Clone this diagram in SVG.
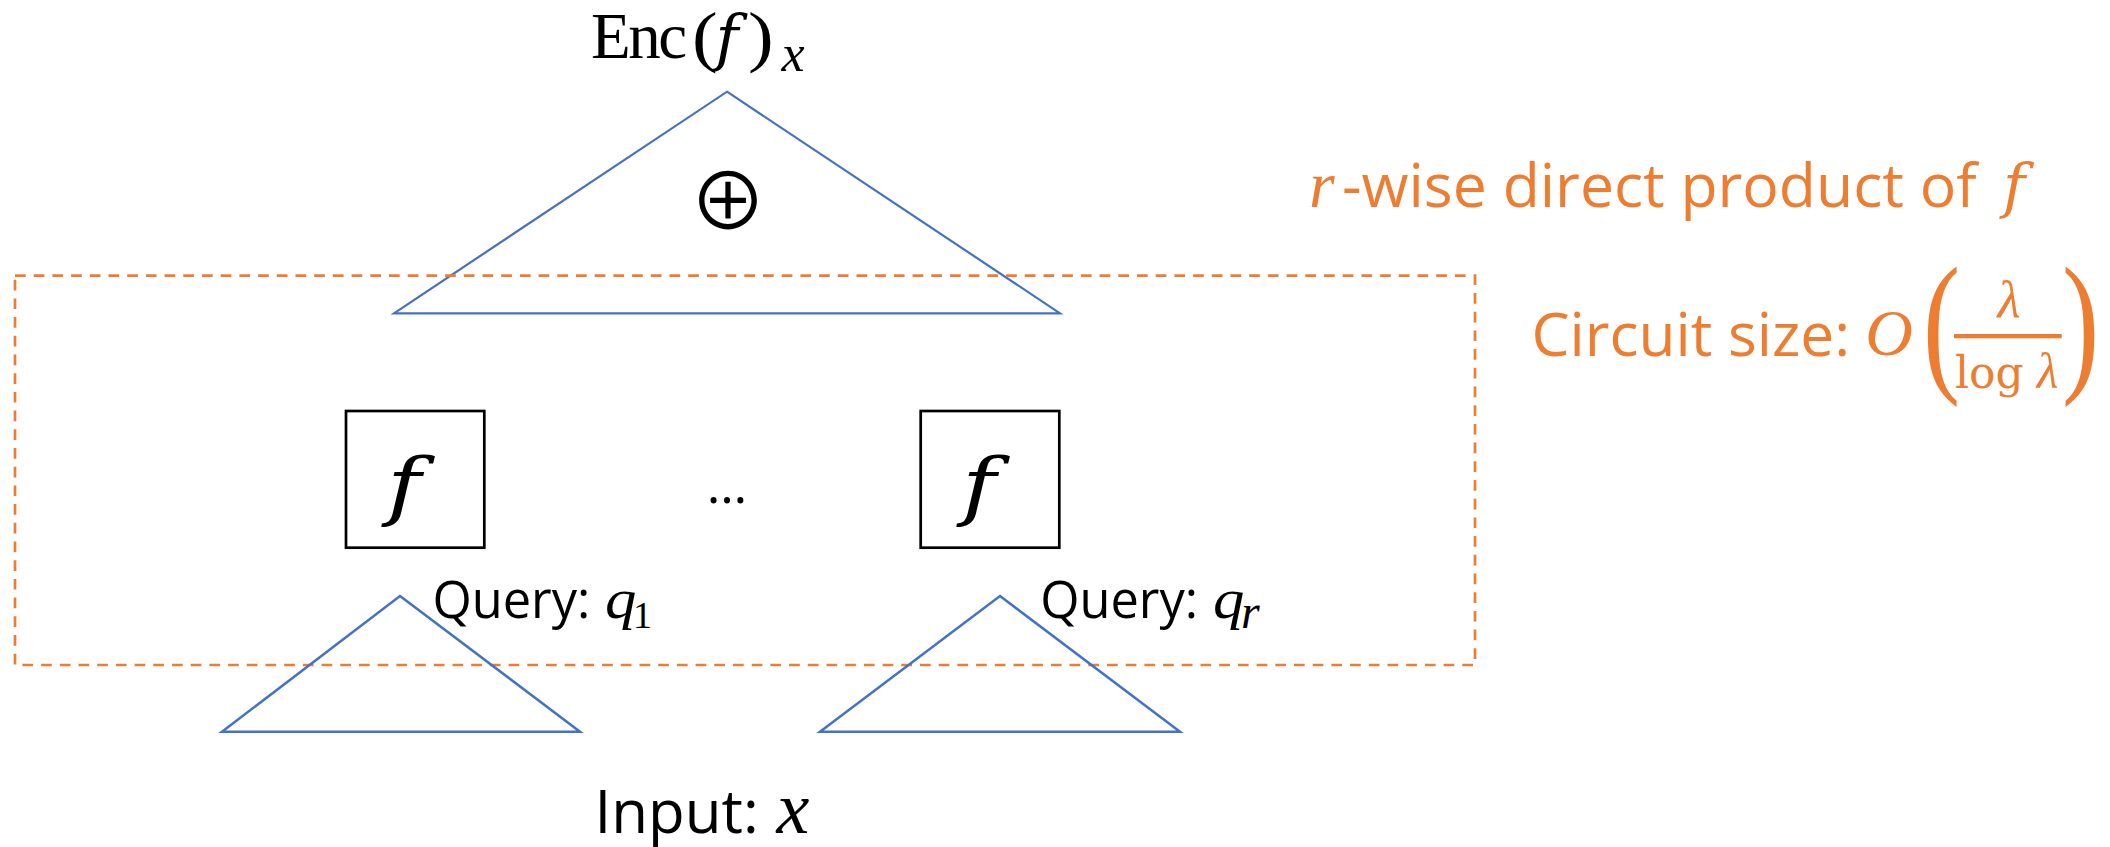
<svg xmlns="http://www.w3.org/2000/svg" width="2110" height="847" viewBox="0 0 2110 847">
  <style>
    .tri{fill:none;stroke:#4472C4;stroke-width:2.5;stroke-linejoin:miter}
    .box{fill:none;stroke:#000;stroke-width:2.7}
    .frame{fill:none;stroke:#ED7D31;stroke-width:2.7;stroke-dasharray:10.7 8}
    .sans{font-family:'Open Sans','Noto Sans','DejaVu Sans',sans-serif}
    .math{font-family:'Liberation Serif','Times New Roman',serif}
    .wide{font-family:'DejaVu Serif','Liberation Serif',serif}
    .fn{font-family:'DejaVu Serif','Liberation Serif',serif;font-style:italic}
    .it{font-style:italic}
    .ink{fill:#000}
    .orange{fill:#ED7D31}
  </style>
  <rect width="2110" height="847" fill="#fff"/>

  <!-- XOR tree at the top -->
  <g id="xor-tree">
    <polygon class="tri" style="stroke-width:2.2" points="727,91.7 1060,313.3 394,313.3"/>
    <text class="ink" x="728" y="230" font-family="'Noto Sans CJK SC','DejaVu Sans',sans-serif" font-size="78" text-anchor="middle">⊕</text>
  </g>

  <!-- output label -->
  <g id="output-label" class="ink">
    <text class="math" x="591" y="58.3" font-size="65" textLength="96">Enc</text>
    <text class="math" transform="translate(692,59) scale(1.15,1)" font-size="67">(</text>
    <text class="fn" x="727" y="59" font-size="62" text-anchor="middle">f</text>
    <text class="math" transform="translate(748,59) scale(1.15,1)" font-size="67">)</text>
    <text class="math it" x="793" y="70.7" font-size="52" text-anchor="middle">x</text>
  </g>

  <!-- dashed boundary of the r-wise product circuit -->
  <g id="circuit-frame">
    <rect class="frame" x="15" y="275.7" width="1460" height="389.3"/>
  </g>

  <!-- copies of f -->
  <g id="f-box-1">
    <rect class="box" x="346" y="411" width="138.3" height="136.7"/>
    <text class="fn ink" transform="translate(404,511) scale(1.25,1)" font-size="74" text-anchor="middle">f</text>
  </g>
  <g id="ellipsis">
    <text class="sans ink" x="727" y="503" font-size="52" text-anchor="middle">…</text>
  </g>
  <g id="f-box-r">
    <rect class="box" x="920.7" y="411" width="138.6" height="136.7"/>
    <text class="fn ink" transform="translate(979,511) scale(1.25,1)" font-size="74" text-anchor="middle">f</text>
  </g>

  <!-- query trees -->
  <g id="query-1">
    <polygon class="tri" points="400,596 580,731.7 222,731.7"/>
    <text class="sans ink" x="432.5" y="618" font-size="50.5">Query:</text>
    <text class="math it ink" transform="translate(605,618) scale(1.1,1)" font-size="57">q</text>
    <text class="math ink" x="633" y="628" font-size="38">1</text>
  </g>
  <g id="query-r">
    <polygon class="tri" points="1000,596 1180,731.7 820,731.7"/>
    <text class="sans ink" x="1040.2" y="618" font-size="50.5">Query:</text>
    <text class="math it ink" transform="translate(1213,618) scale(1.1,1)" font-size="57">q</text>
    <text class="math it ink" x="1241" y="628" font-size="48">r</text>
  </g>

  <!-- input label -->
  <g id="input-label">
    <text class="sans ink" x="594.5" y="833.3" font-size="60">Input:</text>
    <text class="math it ink" x="793" y="833.3" font-size="74" text-anchor="middle">x</text>
  </g>

  <!-- annotations -->
  <g id="note-product" class="orange">
    <text class="math it" x="1309" y="207.3" font-size="66">r</text>
    <text class="sans" x="1342" y="207.3" font-size="60.7">-wise direct product of</text>
    <text class="fn" x="2014" y="207" font-size="60" text-anchor="middle">f</text>
  </g>
  <g id="note-size" class="orange">
    <text class="sans" x="1531.5" y="356" font-size="60.4">Circuit size:</text>
    <text class="math it" x="1889" y="355" font-size="66" text-anchor="middle">O</text>
    <text class="math" transform="translate(1923,374.4) scale(0.72,1)" font-size="155">(</text>
    <text class="math it" x="2009" y="317" font-size="53" text-anchor="middle">λ</text>
    <rect x="1954" y="334" width="107.7" height="4.3"/>
    <text class="wide" x="1955" y="388.3" font-size="44">log</text>
    <text class="math it" x="2047.5" y="388.3" font-size="50" text-anchor="middle">λ</text>
    <text class="math" transform="translate(2062,374.4) scale(0.72,1)" font-size="155">)</text>
  </g>
</svg>
